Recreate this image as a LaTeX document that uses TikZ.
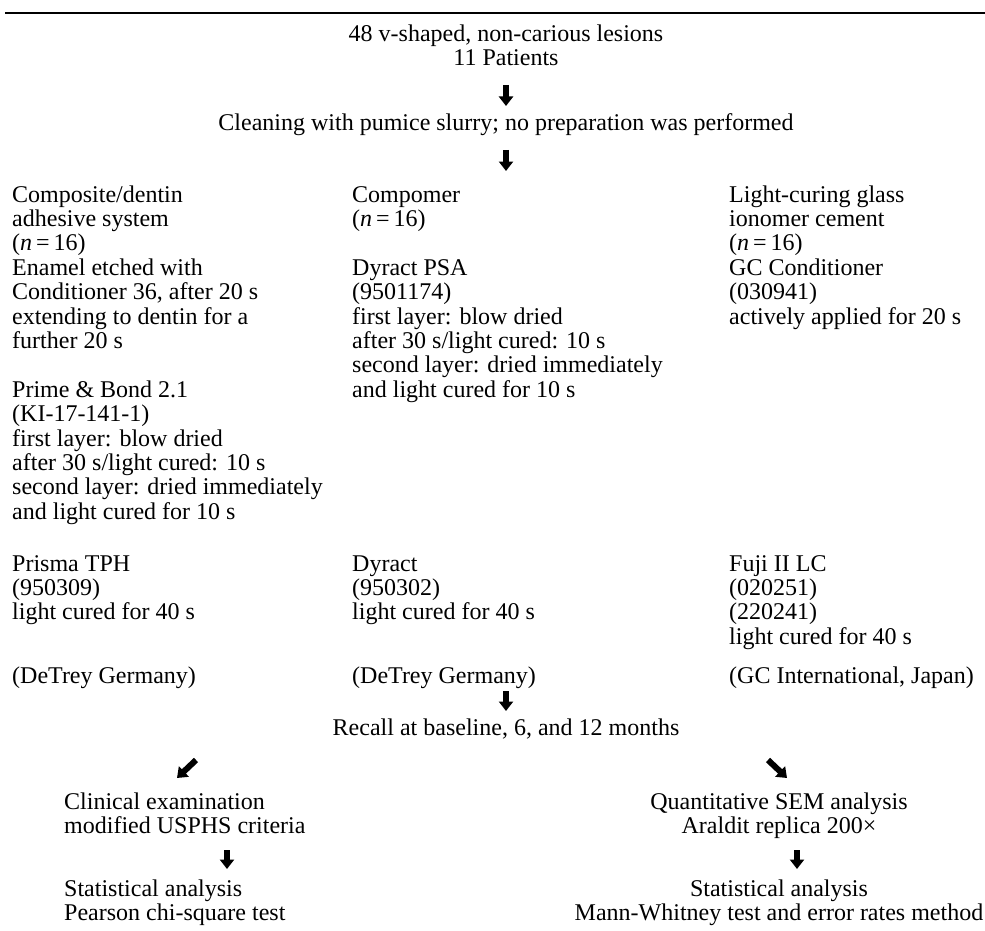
\documentclass[tikz,border=0pt]{standalone}
\usepackage{fontspec}
\setmainfont{Liberation Serif}
\usepackage{tikz}
\usetikzlibrary{arrows.meta,calc}

\newcommand{\nsize}{(\textit{n}\,=\,16)}

\tikzset{
  txt/.style={inner sep=0pt, align=left, anchor=base west,
    font=\fontsize{24}{24.4}\selectfont},
  ctxt/.style={txt, align=center, anchor=base},
  fat/.style={line width=6pt, -{Triangle[width=14pt,length=9.5pt]}},
}

\begin{document}
\begin{tikzpicture}[x=1pt,y=-1pt]
  \useasboundingbox (0,0) rectangle (985,931);
  % Define coordinates
  \path
    (506,85) coordinate (A1) (506,106) coordinate (B1)
    (506,150) coordinate (A2) (506,171) coordinate (B2)
    (506,691) coordinate (A3) (506,711) coordinate (B3)
    (196,760) coordinate (A4) (177,778) coordinate (B4)
    (768,760) coordinate (A5) (787,778) coordinate (B5)
    (227,850) coordinate (A6) (227,869) coordinate (B6)
    (797,850) coordinate (A7) (797,869) coordinate (B7)
  ;
  % Top rule
  \draw[line width=1.6pt] (5,13) -- (985,13);
  % Header (base anchor = last line)
  \node[ctxt] (lesions) at (506,66) {48 v-shaped, non-carious lesions\\11 Patients};
  \node[ctxt] (clean) at (506,131) {Cleaning with pumice slurry; no preparation was performed};
  % Groups
  \node[txt] (composite) at (12,519.2) {Composite/dentin\\adhesive system\\\nsize\\
    Enamel etched with\\Conditioner 36, after 20 s\\extending to dentin for a\\further 20 s\\[24.4pt]
    Prime \& Bond 2.1\\(KI-17-141-1)\\first layer: blow dried\\after 30 s/light cured: 10 s\\
    second layer: dried immediately\\and light cured for 10 s};
  \node[txt] (compomer) at (352,397.2) {Compomer\\\nsize\\[24.4pt]
    Dyract PSA\\(9501174)\\first layer: blow dried\\after 30 s/light cured: 10 s\\
    second layer: dried immediately\\and light cured for 10 s};
  \node[txt] (glass) at (729,324) {Light-curing glass\\ionomer cement\\\nsize\\
    GC Conditioner\\(030941)\\actively applied for 20 s};
  % Materials
  \node[txt] (prisma) at (12,619.8) {Prisma TPH\\(950309)\\light cured for 40 s};
  \node[txt] (dyract) at (352,619.8) {Dyract\\(950302)\\light cured for 40 s};
  \node[txt] (fuji) at (729,644.2) {Fuji II LC\\(020251)\\(220241)\\light cured for 40 s};
  \node[txt] (maker1) at (12,683) {(DeTrey Germany)};
  \node[txt] (maker2) at (352,683) {(DeTrey Germany)};
  \node[txt] (maker3) at (729,683) {(GC International, Japan)};
  % Recall and analysis
  \node[ctxt] (recall) at (506,735) {Recall at baseline, 6, and 12 months};
  \node[txt] (clinical) at (64,833.4) {Clinical examination\\modified USPHS criteria};
  \node[txt] (statleft) at (64,920.4) {Statistical analysis\\Pearson chi-square test};
  \node[ctxt] (sem) at (779,833.4) {Quantitative SEM analysis\\Araldit replica 200×};
  \node[ctxt] (statright) at (779,920.4) {Statistical analysis\\Mann-Whitney test and error rates method};
  % Arrows
  \foreach \i in {1,...,7}
    \draw[fat] (A\i) -- (B\i);
\end{tikzpicture}
\end{document}
